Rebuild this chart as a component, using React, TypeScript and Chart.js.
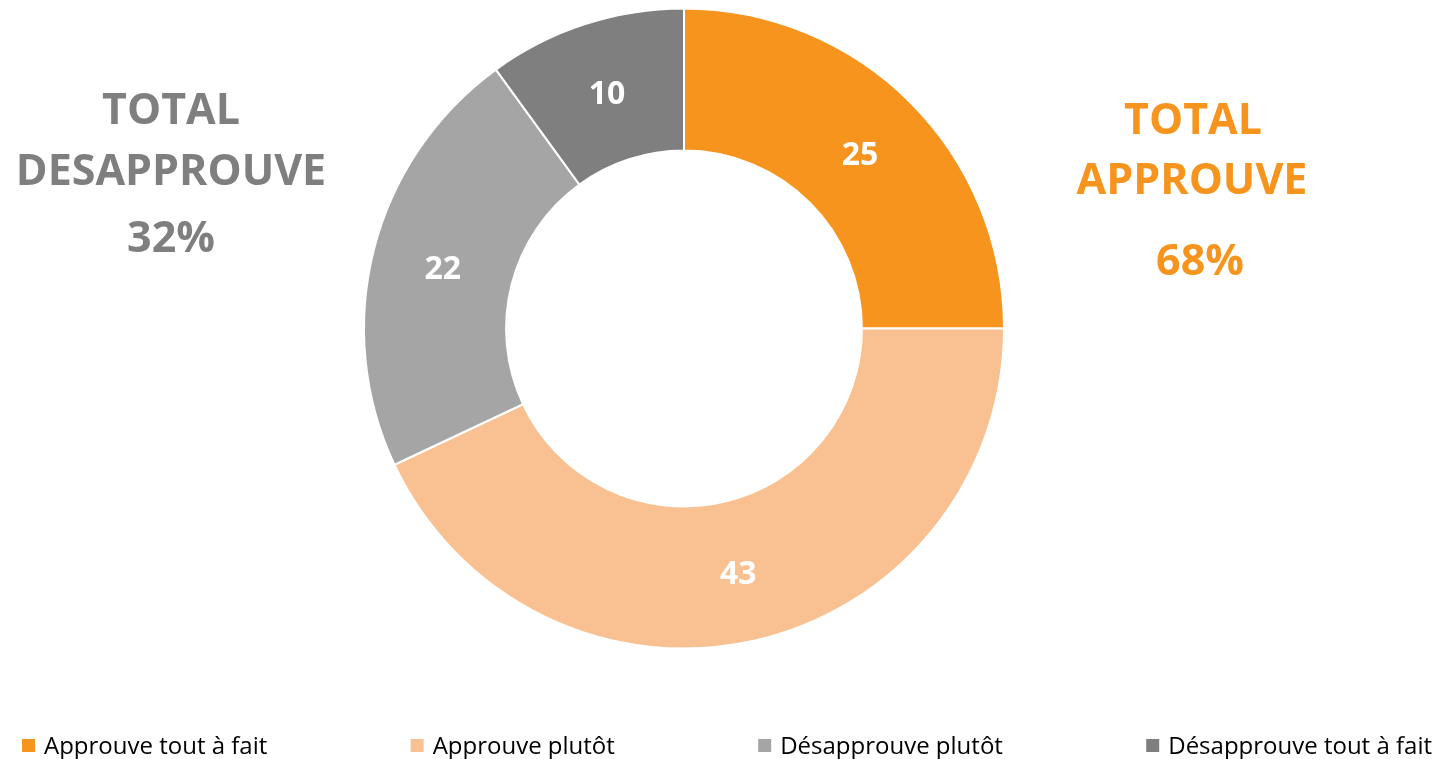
import React, { useEffect, useRef } from "react";
import { Chart, registerables } from "chart.js";

Chart.register(...registerables);

const categories = ["Approuve tout à fait", "Approuve plutôt", "Désapprouve plutôt", "Désapprouve tout à fait"];
const values = [25, 43, 22, 10];
const colors = ["#F7941E", "#F9C191", "#A5A5A5", "#7F7F7F"];
const leftLines = ["TOTAL", "DESAPPROUVE", "32%"];
const rightLines = ["TOTAL", "APPROUVE", "68%"];

const FONT = "'Open Sans', 'Noto Sans', sans-serif";

const overlayPlugin = {
  id: "overlay",
  afterDatasetsDraw(chart: any) {
    const ctx = chart.ctx as CanvasRenderingContext2D;
    const meta = chart.getDatasetMeta(0);
    ctx.save();
    // data labels
    ctx.fillStyle = "#FFFFFF";
    ctx.font = `bold 32px ${FONT}`;
    ctx.textAlign = "center";
    ctx.textBaseline = "middle";
    meta.data.forEach((arc: any, i: number) => {
      const p = arc.getCenterPoint();
      ctx.fillText(String(chart.data.datasets[0].data[i]), p.x, p.y + 3);
    });
    // side totals
    ctx.font = `bold 43px ${FONT}`;
    ctx.fillStyle = "#7F7F7F";
    const ly = [112, 173, 240];
    leftLines.forEach((t, i) => ctx.fillText(t, 171, ly[i]));
    ctx.fillStyle = "#F7941E";
    const ry = [122, 182, 263];
    const rx = [1193, 1192, 1200];
    rightLines.forEach((t, i) => ctx.fillText(t, rx[i], ry[i]));
    // legend
    ctx.font = `24px ${FONT}`;
    ctx.textAlign = "left";
    ctx.textBaseline = "alphabetic";
    const box = 13;
    const gapText = 9;
    const labels: string[] = chart.data.labels;
    const widths = labels.map((l) => ctx.measureText(l).width);
    const startX = 22;
    const endX = 1432;
    const used = widths.reduce((a, w) => a + box + gapText + w, 0);
    const gap = (endX - startX - used) / (labels.length - 1);
    let x = startX;
    labels.forEach((l, i) => {
      ctx.fillStyle = chart.data.datasets[0].backgroundColor[i];
      ctx.fillRect(x, 739, box, box);
      ctx.fillStyle = "#000000";
      ctx.fillText(l, x + box + gapText, 754);
      x += box + gapText + widths[i] + gap;
    });
    ctx.restore();
  },
};

export default function App() {
  const ref = useRef<HTMLCanvasElement | null>(null);
  useEffect(() => {
    if (!ref.current) return;
    const chart = new Chart(ref.current, {
      type: "doughnut",
      data: {
        labels: categories,
        datasets: [
          {
            data: values,
            backgroundColor: colors,
            borderColor: "#FFFFFF",
            borderWidth: 2,
            hoverOffset: 0,
          },
        ],
      },
      options: {
        animation: false,
        responsive: false,
        radius: 320,
        cutout: "55.6%",
        layout: { padding: { left: 0, right: 66, top: 8, bottom: 110 } },
        plugins: {
          legend: { display: false },
          tooltip: { enabled: false },
        },
      },
      plugins: [overlayPlugin],
    });
    return () => chart.destroy();
  }, []);
  return (
    <div style={{ position: "absolute", left: 0, top: 0, width: 1434, height: 759, background: "#FFFFFF" }}>
      <canvas ref={ref} width={1434} height={759} style={{ width: 1434, height: 759 }} />
    </div>
  );
}
